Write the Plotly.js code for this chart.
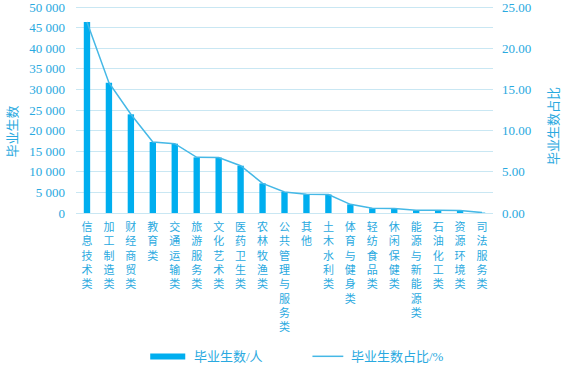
<!DOCTYPE html>
<html>
<head>
<meta charset="utf-8">
<script src="https://cdn.plot.ly/plotly-3.0.1.min.js"></script>
<style>
html,body{margin:0;padding:0;background:#fff;}
#chart{width:562px;height:365px;}
</style>
</head>
<body>
<div id="chart"></div>
<script>
const categories = ['信息技术类','加工制造类','财经商贸类','教育类','交通运输类','旅游服务类','文化艺术类','医药卫生类','农林牧渔类','公共管理与服务类','其他','土木水利类','体育与健身类','轻纺食品类','休闲保健类','能源与新能源类','石油化工类','资源环境类','司法服务类'];
const graduates = [46360, 31630, 23950, 17230, 16820, 13510, 13450, 11480, 7200, 5100, 4530, 4500, 2100, 1140, 1100, 650, 650, 600, 100];
const sharePct = [23.18, 15.82, 11.98, 8.62, 8.41, 6.76, 6.73, 5.74, 3.60, 2.55, 2.27, 2.25, 1.05, 0.57, 0.55, 0.33, 0.33, 0.30, 0.05];
const leftTicks = [0, 5000, 10000, 15000, 20000, 25000, 30000, 35000, 40000, 45000, 50000];
const rightTicks = [0, 5, 10, 15, 20, 25];
const barName = '毕业生数/人';
const lineName = '毕业生数占比/%';
const leftTitle = '毕业生数';
const rightTitle = '毕业生数占比';

const txt = '#29A9E0';
const fam = "Liberation Serif, Noto Sans CJK SC, serif";
const verticalText = categories.map(c => c.split('').join('<br>'));

const traces = [
  {type:'bar', x:categories, y:graduates, name:barName, marker:{color:'#00AEEF'}, width:0.29, yaxis:'y', hoverinfo:'none'},
  {type:'scatter', mode:'lines', x:categories, y:sharePct, name:lineName, line:{color:'#45B8E6', width:1.5}, yaxis:'y2', hoverinfo:'none'}
];

const layout = {
  width:562, height:365,
  margin:{l:76, r:69, t:5, b:152},
  paper_bgcolor:'#fff', plot_bgcolor:'#fff',
  separators:'. ',
  showlegend:false,
  font:{family:fam, color:txt, size:13},
  xaxis:{
    type:'category', tickmode:'array', tickvals:categories, ticktext:verticalText,
    tickfont:{family:fam, size:11, color:txt}, tickangle:0,
    showgrid:false, zeroline:false, showline:false, ticks:'', ticklabelstandoff:6
  },
  yaxis:{
    range:[0,50485], tickmode:'array', tickvals:leftTicks, tickformat:',',
    showgrid:true, gridcolor:'#C9E7F3', gridwidth:1, zeroline:true, zerolinecolor:'#C9E7F3', zerolinewidth:1,
    tickfont:{family:fam, size:13, color:txt}, ticks:'', ticklabelstandoff:10, showline:false,
    ticklabeloverflow:'allow'
  },
  yaxis2:{
    range:[0,25.243], overlaying:'y', side:'right', tickmode:'array', tickvals:rightTicks, tickformat:'.2f',
    showgrid:false, zeroline:false, showline:false, ticks:'',
    tickfont:{family:fam, size:13, color:txt}, ticklabelstandoff:8, ticklabeloverflow:'allow'
  },
  annotations:[
    {xref:'paper', yref:'paper', x:-0.153, y:0.393, text:leftTitle, textangle:-90, showarrow:false, font:{family:fam, size:13, color:txt}, xanchor:'center', yanchor:'middle'},
    {xref:'paper', yref:'paper', x:1.1446, y:0.42, text:rightTitle, textangle:-90, showarrow:false, font:{family:fam, size:13, color:txt}, xanchor:'center', yanchor:'middle'},
    {xref:'paper', yref:'paper', x:0.279, y:-0.689, text:barName, showarrow:false, font:{family:fam, size:13, color:txt}, xanchor:'left', yanchor:'middle'},
    {xref:'paper', yref:'paper', x:0.655, y:-0.689, text:lineName, showarrow:false, font:{family:fam, size:13, color:txt}, xanchor:'left', yanchor:'middle'}
  ],
  shapes:[
    {type:'rect', xref:'paper', yref:'paper', x0:0.178, x1:0.262, y0:-0.675, y1:-0.704, fillcolor:'#00AEEF', line:{width:0}},
    {type:'line', xref:'paper', yref:'paper', x0:0.567, x1:0.641, y0:-0.689, y1:-0.689, line:{color:'#45B8E6', width:1.5}}
  ]
};

Plotly.newPlot('chart', traces, layout, {displayModeBar:false, staticPlot:true});
</script>
</body>
</html>
